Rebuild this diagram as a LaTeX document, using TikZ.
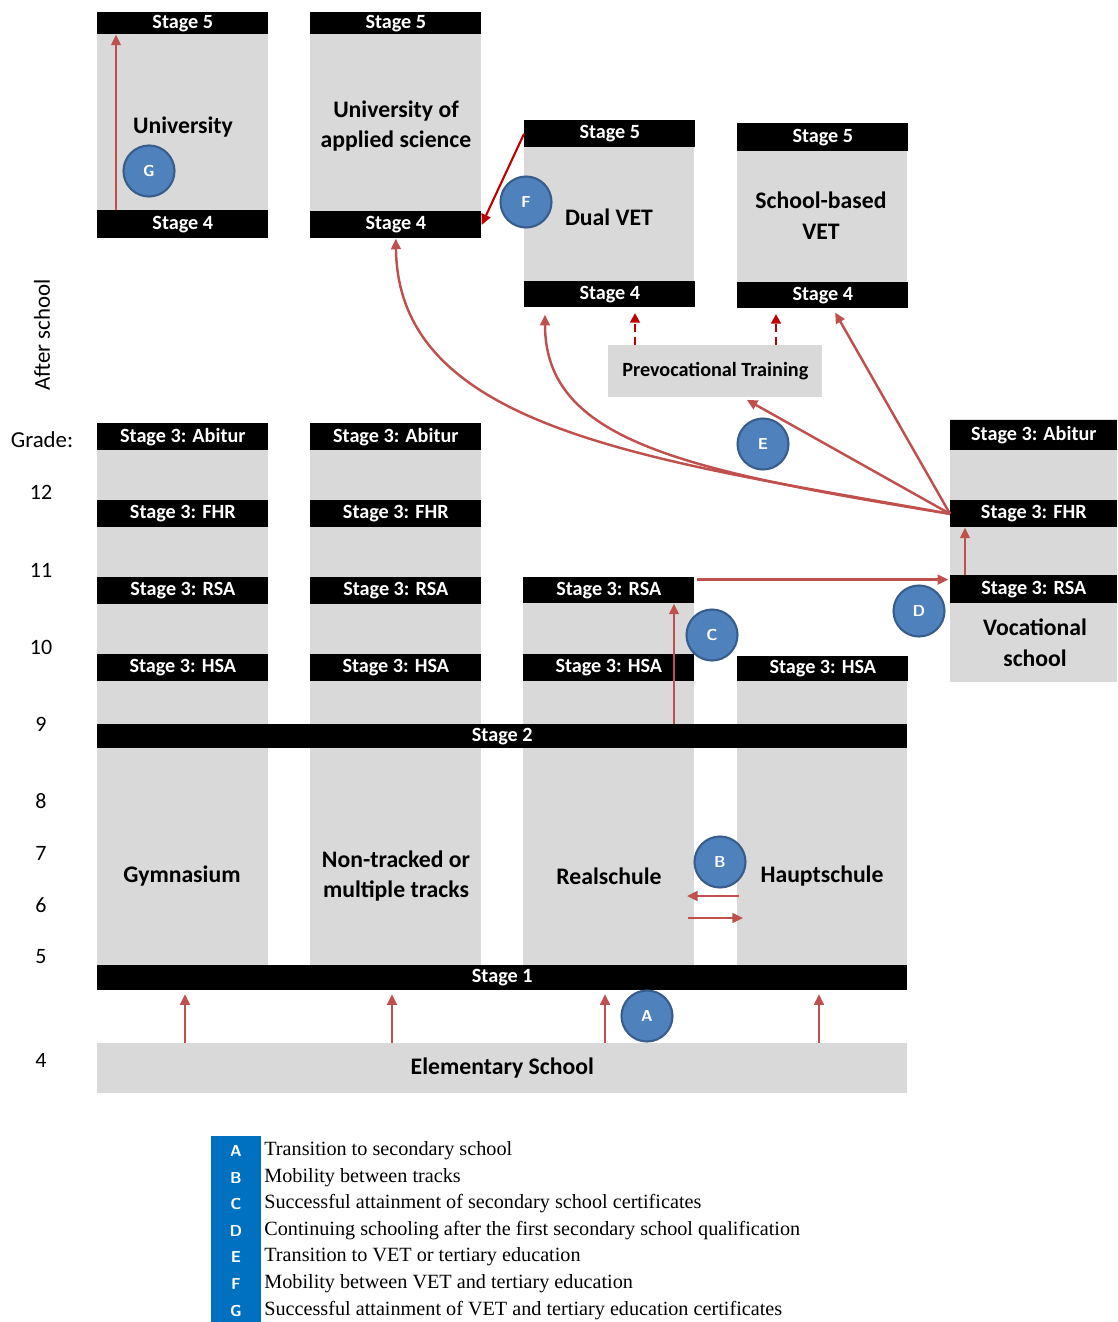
\documentclass[tikz,border=0pt]{standalone}
\usepackage{fontspec}
\setmainfont{Carlito}
\newfontfamily\legendfont{Liberation Serif}
\usetikzlibrary{arrows.meta,positioning}

\definecolor{schoolgray}{HTML}{D9D9D9}
\definecolor{flowred}{HTML}{C0504D}
\definecolor{darkflow}{HTML}{C00000}
\definecolor{markblue}{HTML}{4F81BD}
\definecolor{markedge}{HTML}{385D8A}
\definecolor{legendblue}{HTML}{0070C0}

\newcommand{\barfont}{\bfseries\fontsize{11.5}{13}\selectfont}
\newcommand{\blockfont}{\bfseries\fontsize{13.5}{17.5}\selectfont}
\newcommand{\gradefont}{\fontsize{12.5}{14}\selectfont}

\begin{document}
\begin{tikzpicture}[x=0.02cm, y=-0.02cm,
  stagebar/.style={fill=black, text=white, font=\barfont, inner sep=0pt,
    anchor=north west, minimum width=3.42cm, minimum height=0.54cm},
  blocklabel/.style={font=\blockfont, align=center},
  flow/.style={draw=flowred, line width=1.4pt, -{Triangle[length=6pt, width=5.5pt]}},
  dashflow/.style={draw=darkflow, line width=1.6pt, dash pattern=on 4.5pt off 3pt,
    -{Triangle[length=5.5pt, width=5.5pt]}},
  marker/.style={circle, fill=markblue, draw=markedge, line width=1.2pt, text=white,
    minimum size=1.02cm, inner sep=0pt, font=\sffamily\bfseries\fontsize{9}{10}\selectfont},
  legendtext/.style={font=\legendfont\fontsize{11.5}{13}\selectfont, inner sep=0pt, anchor=west}
]
\useasboundingbox (0,0) rectangle (1117,1322);

% Left labels
\node[font=\fontsize{13}{15}\selectfont, rotate=90] (afterschool) at (42,335) {After school};
\node[font=\fontsize{13}{15}\selectfont] (grade) at (42,440) {Grade:};
\foreach \g/\y in {12/492, 11/570, 10/647, 9/724, 8/801, 7/853, 6/905, 5/957, 4/1060} {
    \node[font=\gradefont] (grade\g) at (41,\y) {\g};
}

% After school: tertiary and VET
\fill[schoolgray] (97,12) rectangle (268,238);
\node[stagebar, minimum height=0.44cm] (uni5) at (97,12) {Stage 5};
\node[stagebar, minimum height=0.56cm] (uni4) at (97,210) {Stage 4};
\node[blocklabel] (unilabel) at (183,127) {University};

\fill[schoolgray] (310,12) rectangle (481,238);
\node[stagebar, minimum height=0.44cm] (uas5) at (310,12) {Stage 5};
\node[stagebar] (uas4) at (310,211) {Stage 4};
\node[blocklabel] (uaslabel) at (396,126) {University of\\applied science};

\fill[schoolgray] (524,120) rectangle (694,307);
\node[stagebar] (dual5) at (524,120) {Stage 5};
\node[stagebar, minimum height=0.52cm] (dual4) at (524,281) {Stage 4};
\node[blocklabel] (duallabel) at (609,217) {Dual VET};

\fill[schoolgray] (737,123) rectangle (907,308);
\node[stagebar, minimum height=0.56cm] (sch5) at (737,123) {Stage 5};
\node[stagebar, minimum height=0.52cm] (sch4) at (737,282) {Stage 4};
\node[blocklabel] (schlabel) at (821,216) {School-based\\VET};

\node[fill=schoolgray, anchor=north west, minimum width=4.28cm, minimum height=1.04cm,
  font=\barfont] (prevoc) at (608,345) {Prevocational Training};

% Secondary school columns
\foreach \col/\cx in {gym/97, non/310} {
    \fill[schoolgray] (\cx,423) rectangle +(171,542);
    \node[stagebar] (\col abi) at (\cx,423) {Stage 3: Abitur};
    \node[stagebar] (\col fhr) at (\cx,500) {Stage 3: FHR};
    \node[stagebar] (\col rsa) at (\cx,577) {Stage 3: RSA};
    \node[stagebar] (\col hsa) at (\cx,654) {Stage 3: HSA};
}
\fill[schoolgray] (523,577) rectangle (694,965);
\node[stagebar, minimum height=0.52cm] (realrsa) at (523,577) {Stage 3: RSA};
\node[stagebar] (realhsa) at (523,654) {Stage 3: HSA};
\fill[schoolgray] (737,656) rectangle (907,965);
\node[stagebar, minimum height=0.5cm] (haupthsa) at (737,656) {Stage 3: HSA};

\node[blocklabel] (gymlabel) at (182,876) {Gymnasium};
\node[blocklabel] (nonlabel) at (396,876) {Non-tracked or\\multiple tracks};
\node[blocklabel] (reallabel) at (609,876) {Realschule};
\node[blocklabel] (hauptlabel) at (822,876) {Hauptschule};

% Vocational school
\fill[schoolgray] (950,419) rectangle (1117,682);
\node[stagebar, minimum width=3.34cm, minimum height=0.6cm] (vocabi) at (950,420) {Stage 3: Abitur};
\node[stagebar, minimum width=3.34cm] (vocfhr) at (950,500) {Stage 3: FHR};
\node[stagebar, minimum width=3.34cm, minimum height=0.56cm] (vocrsa) at (950,575) {Stage 3: RSA};
\node[blocklabel] (voclabel) at (1035,643) {Vocational\\school};

% Stages 1 and 2, elementary school
\node[stagebar, minimum width=16.2cm, minimum height=0.48cm] (stagetwo) at (97,724) {Stage 2};
\node[stagebar, minimum width=16.2cm, minimum height=0.5cm] (stageone) at (97,965) {Stage 1};
\node[fill=schoolgray, anchor=north west, minimum width=16.2cm, minimum height=1cm,
  font=\blockfont] (elem) at (97,1043) {Elementary School};

% Arrow guides
\coordinate (xg) at (116,0);
\coordinate (xc) at (674,0);
\coordinate (xv) at (965,0);
\coordinate (xp1) at (635,0);
\coordinate (xp2) at (776,0);
\coordinate (xe2) at (545,0);
\coordinate (xe3) at (743,0);
\coordinate (xe4) at (833,0);

% A: into secondary school
\foreach \x in {185, 392, 605, 819} {
    \coordinate (ax) at (\x,0);
    \draw[flow, shorten >=2pt] (elem.north -| ax) -- (stageone.south -| ax);
}

% B: between tracks
\coordinate (bh) at (739,896);
\coordinate (br) at (687,896);
\draw[flow] (bh) -- (br);
\coordinate (brr) at (688,918);
\coordinate (bhh) at (743,918);
\draw[flow] (brr) -- (bhh);

% C and D
\draw[flow] (stagetwo.north -| xc) -- (realrsa.south -| xc);
\coordinate (dstart) at ([yshift=-1.5pt]realrsa.north east);
\draw[flow, shorten <=1.5pt, shorten >=1pt] (dstart) -- (dstart -| vocrsa.west);
\draw[flow] (vocrsa.north -| xv) -- (vocfhr.south -| xv);

% E: after school
\draw[flow] (vocfhr.west) .. controls (650,460) and (398,430) .. (uas4.south);
\draw[flow, shorten >=4pt] (vocfhr.west) .. controls (680,470) and (545,440) .. (dual4.south -| xe2);
\draw[flow, shorten >=2.5pt] (vocfhr.west) -- (prevoc.south -| xe3);
\draw[flow, shorten >=2.5pt] (vocfhr.west) -- (sch4.south -| xe4);
\draw[dashflow, shorten >=3pt] (prevoc.north -| xp1) -- (dual4.south -| xp1);
\draw[dashflow, shorten >=3pt] (prevoc.north -| xp2) -- (sch4.south -| xp2);

% F and G
\draw[draw=darkflow, line width=1.2pt, -{Triangle[length=6pt, width=5.5pt]}] (dual5.west) -- (uas4.east);
\draw[flow] (uni4.north -| xg) -- (uni5.south -| xg);

% Markers
\node[marker] (ca) at (647,1016) {A};
\node[marker] (cb) at (720,862) {B};
\node[marker] (cc) at (712,635) {C};
\node[marker] (cd) at (919,611) {D};
\node[marker] (ce) at (763,444) {E};
\node[marker] (cf) at (526,202) {F};
\node[marker] (cg) at (149,171) {G};

% Legend
\node[fill=legendblue, anchor=north west, minimum width=1cm, minimum height=3.72cm,
  inner sep=0pt] (legendbar) at (211,1136) {};
\foreach \k/\y/\txt in {A/1151/Transition to secondary school,
    B/1178/Mobility between tracks,
    C/1204/Successful attainment of secondary school certificates,
    D/1231/Continuing schooling after the first secondary school qualification,
    E/1257/Transition to VET or tertiary education,
    F/1284/Mobility between VET and tertiary education,
    G/1311/Successful attainment of VET and tertiary education certificates} {
    \node[font=\sffamily\bfseries\fontsize{9}{10}\selectfont, text=white] (key\k) at (236,\y) {\k};
    \node[legendtext] (keytext\k) at (264,\y) {\txt};
}

\end{tikzpicture}
\end{document}
